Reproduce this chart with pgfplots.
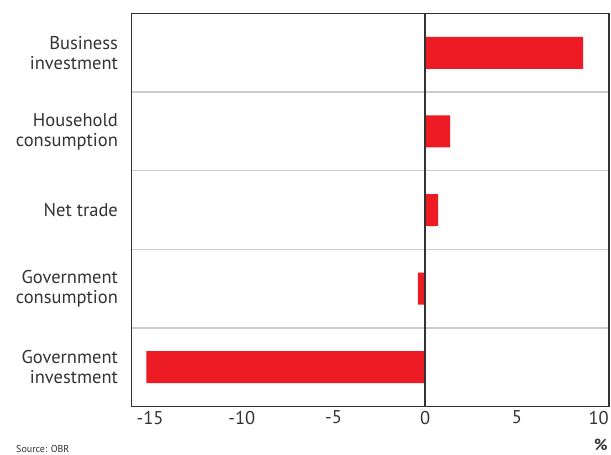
\documentclass[border=0pt]{standalone}
\usepackage{fontspec}
\setmainfont{PT Sans}
\usepackage{pgfplots}
\pgfplotsset{compat=1.18}
\definecolor{barred}{HTML}{ED1C24}
\definecolor{frame}{HTML}{333333}
\definecolor{gridgray}{HTML}{CCCCCC}
\begin{document}
\begin{tikzpicture}[x=1pt,y=1pt]
\useasboundingbox (-131.7,-48.5) rectangle (479.3,406.5);
\begin{axis}[
  at={(0,0)}, anchor=south west,
  scale only axis, width=477pt, height=393pt,
  xbar, bar width=32pt, bar shift=0pt,
  xmin=-16, xmax=10, ymin=-0.5, ymax=4.5,
  y dir=reverse,
  xtick={-15,-10,-5,0,5,10},
  xticklabels={-15,-10,-5,0,5,\makebox[0pt][r]{10}},
  ytick={0,1,2,3,4},
  yticklabels={{Business\\investment},{Household\\consumption},{Net trade},{Government\\consumption},{Government\\investment}},
  yticklabel style={align=right, font=\fontsize{18.5}{20}\selectfont, text=frame, xshift=-6pt},
  xticklabel style={font=\fontsize{18.5}{20}\selectfont, text=frame, yshift=-1pt},
  /pgf/number format/assume math mode=true,
  tick style={draw=none},
  minor ytick={0.5,1.5,2.5,3.5},
  minor grid style={gridgray, line width=1.3pt},
  ymajorgrids=false, yminorgrids=true,
  axis line style={frame, line width=1.6pt},
  clip=false,
]
\addplot[fill=barred, draw=none] coordinates {(8.6,0) (1.35,1) (0.7,2) (-0.4,3) (-15.2,4)};
\draw[frame, line width=1.5pt] (axis cs:0,-0.5) -- (axis cs:0,4.5);
\end{axis}
\node[anchor=base east, inner sep=0pt, font=\bfseries\fontsize{16}{18}\selectfont, text=frame] at (476,-44) {\%};
\node[anchor=base west, font=\fontsize{10}{12}\selectfont, text=frame] at (-119,-46.5) {Source: OBR};
\end{tikzpicture}
\end{document}
